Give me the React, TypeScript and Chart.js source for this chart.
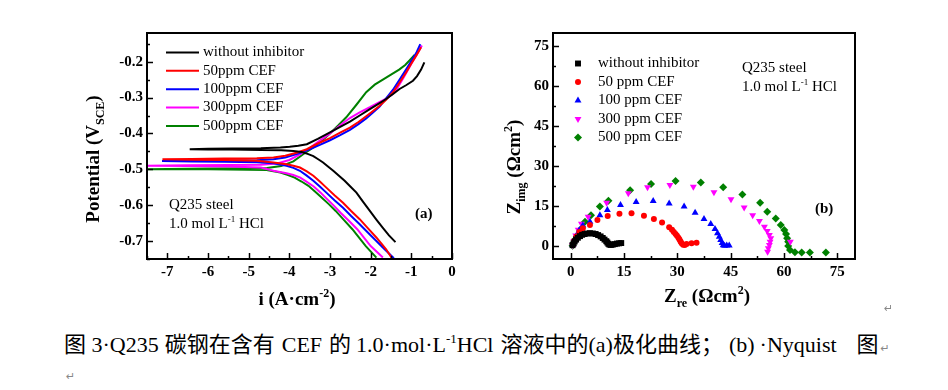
import React, { useEffect, useRef } from 'react';
import { Chart, registerables } from 'chart.js';

Chart.register(...registerables);

const SERIF = '"Liberation Serif", "Times New Roman", Times, serif';
const CAPTION_FONT = '"Liberation Serif", "Noto Sans CJK SC", serif';

// ---------------- (a) polarization curves: log i vs potential ----------------
const polLabels = ['without inhibitor', '50ppm CEF', '100ppm CEF', '300ppm CEF', '500ppm CEF'];
const seriesColors = ['#000000', '#ff0000', '#0000ff', '#ff00ff', '#008000'];
const polXTicks = [-7, -6, -5, -4, -3, -2, -1, 0];
const polYTicks = [-0.7, -0.6, -0.5, -0.4, -0.3, -0.2];

const blankLogI = [-1.39, -1.55, -1.70, -1.86, -2.02, -2.19, -2.35, -2.50, -2.64, -2.78, -2.92, -3.05, -3.17, -3.29, -3.41, -3.55, -3.70, -3.90, -4.20, -4.70, -5.40, -6.00, -6.45, -6.00, -5.40, -4.70, -4.22, -3.99, -3.78, -3.57, -3.30, -3.00, -2.75, -2.51, -2.27, -2.02, -1.82, -1.62, -1.45, -1.29, -1.12, -0.96, -0.86, -0.76, -0.68];
const blankE = [-0.703, -0.684, -0.663, -0.640, -0.616, -0.590, -0.565, -0.548, -0.532, -0.518, -0.504, -0.492, -0.481, -0.472, -0.463, -0.457, -0.452, -0.449, -0.447, -0.446, -0.445, -0.445, -0.444, -0.443, -0.442, -0.441, -0.439, -0.437, -0.434, -0.430, -0.415, -0.397, -0.382, -0.367, -0.350, -0.332, -0.318, -0.304, -0.290, -0.276, -0.265, -0.253, -0.240, -0.222, -0.202];

const ppm50LogI = [-1.49, -1.62, -1.86, -2.07, -2.27, -2.48, -2.68, -2.89, -3.09, -3.25, -3.41, -3.58, -3.74, -3.90, -4.07, -4.39, -4.80, -5.60, -6.40, -7.12, -6.40, -5.60, -4.80, -4.39, -4.10, -3.80, -3.57, -3.30, -3.00, -2.75, -2.51, -2.30, -2.11, -1.95, -1.78, -1.62, -1.45, -1.30, -1.13, -1.00, -0.88, -0.76];
const ppm50E = [-0.746, -0.723, -0.690, -0.664, -0.639, -0.616, -0.593, -0.572, -0.551, -0.534, -0.518, -0.505, -0.495, -0.490, -0.486, -0.481, -0.476, -0.474, -0.473, -0.472, -0.471, -0.470, -0.469, -0.467, -0.462, -0.453, -0.444, -0.428, -0.413, -0.398, -0.384, -0.368, -0.352, -0.338, -0.323, -0.306, -0.285, -0.260, -0.230, -0.205, -0.183, -0.160];

const ppm100LogI = [-1.43, -1.53, -1.70, -1.86, -2.07, -2.27, -2.48, -2.68, -2.89, -3.09, -3.25, -3.41, -3.58, -3.74, -3.90, -4.07, -4.39, -4.80, -5.60, -6.40, -7.13, -6.40, -5.60, -4.80, -4.39, -4.10, -3.80, -3.50, -3.25, -3.00, -2.75, -2.51, -2.30, -2.11, -1.95, -1.78, -1.62, -1.45, -1.30, -1.13, -1.00, -0.88, -0.78];
const ppm100E = [-0.748, -0.737, -0.718, -0.700, -0.676, -0.653, -0.630, -0.607, -0.586, -0.565, -0.548, -0.532, -0.517, -0.504, -0.496, -0.490, -0.483, -0.480, -0.479, -0.478, -0.477, -0.476, -0.476, -0.475, -0.472, -0.467, -0.457, -0.444, -0.432, -0.419, -0.405, -0.390, -0.374, -0.358, -0.342, -0.325, -0.302, -0.278, -0.252, -0.222, -0.198, -0.176, -0.151];

const ppm300LogI = [-1.70, -1.85, -2.00, -2.17, -2.33, -2.53, -2.74, -2.90, -3.07, -3.23, -3.40, -3.57, -3.73, -3.90, -4.07, -4.39, -4.70, -5.50, -6.50, -7.80, -6.50, -5.50, -4.70, -4.30, -4.00, -3.75, -3.50, -3.25, -3.00, -2.75, -2.51, -2.27, -2.02, -1.82, -1.62, -1.48, -1.37, -1.25, -1.13, -1.00, -0.88, -0.74];
const ppm300E = [-0.746, -0.730, -0.714, -0.690, -0.667, -0.644, -0.621, -0.602, -0.583, -0.565, -0.548, -0.535, -0.523, -0.516, -0.511, -0.504, -0.495, -0.492, -0.491, -0.490, -0.489, -0.488, -0.487, -0.484, -0.474, -0.459, -0.441, -0.420, -0.400, -0.377, -0.357, -0.341, -0.327, -0.315, -0.303, -0.292, -0.278, -0.256, -0.232, -0.206, -0.183, -0.155];

const ppm500LogI = [-1.86, -1.99, -2.12, -2.29, -2.45, -2.66, -2.86, -3.03, -3.20, -3.37, -3.53, -3.70, -3.87, -4.05, -4.22, -4.56, -5.00, -6.00, -7.00, -7.80, -7.00, -6.00, -5.00, -4.55, -4.20, -3.90, -3.66, -3.40, -3.20, -3.00, -2.80, -2.60, -2.35, -2.11, -1.90, -1.70, -1.50, -1.30, -1.15, -1.04, -0.92];
const ppm500E = [-0.746, -0.730, -0.714, -0.690, -0.667, -0.641, -0.616, -0.597, -0.579, -0.562, -0.546, -0.534, -0.523, -0.515, -0.509, -0.502, -0.501, -0.500, -0.500, -0.500, -0.499, -0.498, -0.497, -0.496, -0.491, -0.478, -0.458, -0.438, -0.420, -0.400, -0.378, -0.355, -0.320, -0.285, -0.264, -0.250, -0.236, -0.222, -0.209, -0.196, -0.181];

// ---------------- (b) Nyquist plots: Zre vs Zimg ----------------
const nyqLabels = ['without inhibitor', '50 ppm CEF', '100 ppm CEF', '300 ppm CEF', '500 ppm CEF'];
const nyqTicks = [0, 15, 30, 45, 60, 75];
const nyqPointStyles = ['rect', 'circle', 'triangle', 'triangle', 'rectRot'];
const nyqRotations = [0, 0, 0, 180, 0];
const nyqRadii = [4.2, 3, 4, 4, 4];

const blankZre = [0.5, 0.8, 1.1, 1.5, 2.0, 2.6, 3.2, 3.9, 4.6, 5.4, 6.2, 7.0, 7.7, 8.4, 9.0, 9.5, 10.0, 10.3, 10.6, 10.9, 11.3, 11.8, 12.4, 13.0, 13.6, 14.2];
const blankZim = [0.2, 0.9, 1.6, 2.3, 3.0, 3.6, 4.1, 4.4, 4.6, 4.7, 4.6, 4.4, 4.0, 3.5, 2.9, 2.3, 1.7, 1.2, 0.7, 0.4, 0.3, 0.4, 0.6, 0.8, 0.9, 1.0];

const ppm50Zre = [0.6, 1.0, 1.6, 2.4, 3.4, 5.4, 7.5, 10.4, 13.7, 17.1, 20.6, 23.4, 25.7, 27.7, 28.5, 29.0, 29.5, 29.9, 30.3, 30.6, 30.9, 31.2, 31.6, 32.1, 32.6, 34.0, 35.4];
const ppm50Zim = [0.3, 1.8, 3.5, 5.2, 6.6, 7.8, 9.7, 11.2, 12.0, 12.2, 11.3, 10.0, 8.7, 6.9, 6.0, 5.2, 4.4, 3.7, 3.0, 2.3, 1.6, 0.9, 0.4, 0.3, 0.6, 0.9, 1.1];

const ppm100Zre = [0.6, 1.0, 1.6, 2.4, 3.4, 5.4, 8.2, 10.3, 14.0, 18.4, 23.2, 27.7, 31.9, 35.0, 37.5, 39.4, 40.6, 41.3, 41.8, 42.2, 42.6, 42.9, 43.3, 43.9, 44.6];
const ppm100Zim = [0.3, 2.0, 3.8, 5.8, 7.6, 9.0, 11.5, 13.4, 15.3, 16.4, 16.8, 15.9, 14.7, 12.4, 10.0, 8.2, 6.3, 4.7, 3.4, 2.1, 1.0, 0.2, 0.0, 0.1, 0.1];

const ppm300Zre = [0.5, 0.9, 1.4, 2.1, 3.0, 4.9, 10.1, 16.2, 21.6, 27.9, 34.5, 40.3, 45.1, 48.8, 51.2, 53.1, 54.5, 55.3, 55.9, 56.3, 56.1, 55.9, 55.6, 55.4, 61.8];
const ppm300Zim = [0.2, 1.8, 3.8, 6.0, 8.3, 10.9, 16.2, 19.7, 22.0, 22.8, 22.2, 20.1, 17.5, 14.4, 11.5, 9.3, 7.1, 5.5, 4.0, 2.8, 1.5, 0.3, -1.0, -2.3, 1.5];

const ppm500Zre = [0.5, 0.7, 1.1, 1.7, 2.6, 4.0, 5.7, 8.2, 10.6, 16.7, 22.6, 29.5, 36.6, 42.9, 48.3, 53.3, 55.3, 57.7, 59.1, 60.1, 60.6, 60.9, 61.2, 61.2, 61.7, 63.1, 65.0, 67.3, 71.8];
const ppm500Zim = [0.0, 0.9, 2.1, 3.4, 5.9, 9.0, 11.5, 14.7, 16.9, 20.9, 23.2, 24.3, 23.8, 22.0, 19.3, 16.2, 12.8, 10.2, 7.8, 5.9, 4.4, 2.8, 1.5, -0.1, -1.6, -2.5, -2.6, -2.6, -2.6];

const polX = [blankLogI, ppm50LogI, ppm100LogI, ppm300LogI, ppm500LogI];
const polY = [blankE, ppm50E, ppm100E, ppm300E, ppm500E];
const nyqX = [blankZre, ppm50Zre, ppm100Zre, ppm300Zre, ppm500Zre];
const nyqY = [blankZim, ppm50Zim, ppm100Zim, ppm300Zim, ppm500Zim];

// caption text pieces; gap = extra space (px) before the piece (Word's CJK/Latin spacing)
const captionParts: { t: string; gap?: number; sup?: boolean }[] = [
  { t: '图 3·Q235' },
  { t: '碳钢在含有', gap: 6 },
  { t: 'CEF', gap: 7 },
  { t: '的', gap: 7 },
  { t: '1.0·mol·L', gap: 5 },
  { t: '-1', sup: true },
  { t: 'HCl' },
  { t: '溶液中的', gap: 7 },
  { t: '(a)' },
  { t: '极化曲线；' },
  { t: '(b)', gap: 6 },
  { t: '·Nyquist', gap: 5 },
  { t: '图', gap: 20 },
];

// ---------------- drawing helpers ----------------
type Run = { t: string; s?: 'sub' | 'sup' };

function runFont(size: number, bold: boolean, s?: string) {
  const sz = s ? Math.round(size * 0.62) : size;
  return `${bold ? 'bold ' : ''}${sz}px ${SERIF}`;
}

function drawRich(ctx: CanvasRenderingContext2D, runs: Run[], x: number, y: number, size: number, bold: boolean, align: 'left' | 'center') {
  let total = 0;
  for (const r of runs) {
    ctx.font = runFont(size, bold, r.s);
    total += ctx.measureText(r.t).width;
  }
  let cx = align === 'center' ? x - total / 2 : x;
  ctx.textAlign = 'left';
  ctx.textBaseline = 'alphabetic';
  for (const r of runs) {
    ctx.font = runFont(size, bold, r.s);
    const dy = r.s === 'sub' ? size * 0.25 : r.s === 'sup' ? -size * 0.4 : 0;
    ctx.fillText(r.t, cx, y + dy);
    cx += ctx.measureText(r.t).width;
  }
}

function drawMarker(ctx: CanvasRenderingContext2D, style: string, x: number, y: number, r: number, rotation: number) {
  ctx.beginPath();
  if (style === 'rect') {
    const s = Math.SQRT1_2 * r;
    ctx.rect(x - s, y - s, 2 * s, 2 * s);
  } else if (style === 'circle') {
    ctx.arc(x, y, r, 0, Math.PI * 2);
  } else if (style === 'triangle') {
    let rad = (rotation * Math.PI) / 180;
    ctx.moveTo(x + Math.sin(rad) * r, y - Math.cos(rad) * r);
    rad += (2 * Math.PI) / 3;
    ctx.lineTo(x + Math.sin(rad) * r, y - Math.cos(rad) * r);
    rad += (2 * Math.PI) / 3;
    ctx.lineTo(x + Math.sin(rad) * r, y - Math.cos(rad) * r);
    ctx.closePath();
  } else {
    ctx.moveTo(x - r, y);
    ctx.lineTo(x, y - r);
    ctx.lineTo(x + r, y);
    ctx.lineTo(x, y + r);
    ctx.closePath();
  }
  ctx.fill();
}

interface Note { runs: Run[]; x: number; y: number; bold?: boolean; size: number }
interface DecorCfg {
  xMajor: number; xMinor: number; yMajor: number; yMinor: number;
  xTitle: Run[]; xTitleX: number; xTitleY: number;
  yTitle: Run[]; yTitleX: number; yTitleY: number;
  titleSize: number;
  legendKind: 'line' | 'marker';
  legendX: number; legendX2: number; legendTextX: number; legendY: number; legendStep: number;
  notes: Note[];
}

function makeDecor(cfg: DecorCfg) {
  return {
    id: 'decor',
    afterDraw(chart: any) {
      const ctx: CanvasRenderingContext2D = chart.ctx;
      const a = chart.chartArea;
      const xs = chart.scales.x;
      const ys = chart.scales.y;
      const near = (v: number, step: number) => Math.abs(v / step - Math.round(v / step)) < 1e-6;
      ctx.save();
      ctx.strokeStyle = '#000';
      ctx.fillStyle = '#000';
      ctx.lineWidth = 1.5;
      for (let k = Math.ceil(xs.min / cfg.xMinor - 1e-9); k * cfg.xMinor <= xs.max + 1e-9; k++) {
        const v = k * cfg.xMinor;
        const px = Math.round(xs.getPixelForValue(v)) + 0.5;
        const len = near(v, cfg.xMajor) ? 6 : 3;
        ctx.beginPath();
        ctx.moveTo(px, a.bottom);
        ctx.lineTo(px, a.bottom - len);
        ctx.stroke();
      }
      for (let k = Math.ceil(ys.min / cfg.yMinor - 1e-9); k * cfg.yMinor <= ys.max + 1e-9; k++) {
        const v = k * cfg.yMinor;
        const py = Math.round(ys.getPixelForValue(v)) + 0.5;
        const len = near(v, cfg.yMajor) ? 6 : 3;
        ctx.beginPath();
        ctx.moveTo(a.left, py);
        ctx.lineTo(a.left + len, py);
        ctx.stroke();
      }
      ctx.lineWidth = 2;
      ctx.strokeRect(a.left, a.top, a.right - a.left, a.bottom - a.top);

      drawRich(ctx, cfg.xTitle, cfg.xTitleX, cfg.xTitleY, cfg.titleSize, true, 'center');
      ctx.save();
      ctx.translate(cfg.yTitleX, cfg.yTitleY);
      ctx.rotate(-Math.PI / 2);
      drawRich(ctx, cfg.yTitle, 0, 0, cfg.titleSize, true, 'center');
      ctx.restore();

      chart.data.datasets.forEach((ds: any, i: number) => {
        const y = cfg.legendY + i * cfg.legendStep;
        if (cfg.legendKind === 'line') {
          ctx.strokeStyle = ds.borderColor;
          ctx.lineWidth = 2;
          ctx.beginPath();
          ctx.moveTo(cfg.legendX, y);
          ctx.lineTo(cfg.legendX2, y);
          ctx.stroke();
        } else {
          ctx.fillStyle = ds.backgroundColor;
          drawMarker(ctx, ds.pointStyle, cfg.legendX, y, ds.pointRadius, ds.pointRotation || 0);
        }
        ctx.fillStyle = '#000';
        ctx.font = `15px ${SERIF}`;
        ctx.textAlign = 'left';
        ctx.textBaseline = 'middle';
        ctx.fillText(ds.label, cfg.legendTextX, y);
      });

      ctx.fillStyle = '#000';
      for (const n of cfg.notes) drawRich(ctx, n.runs, n.x, n.y, n.size, !!n.bold, 'left');
      ctx.restore();
    },
  };
}

const tickFont = { family: SERIF, size: 15, weight: 'bold' as const };

function axis(min: number, max: number, ticks: number[], fmt: (v: number) => string, fit: (s: any) => void) {
  return {
    type: 'linear' as const,
    min,
    max,
    afterBuildTicks: (s: any) => {
      s.ticks = ticks.map((v) => ({ value: v }));
    },
    afterFit: fit,
    ticks: { callback: (v: any) => fmt(Number(v)), font: tickFont, color: '#000', padding: 4, autoSkip: false, maxRotation: 0 },
    grid: { display: false, drawTicks: false },
    border: { display: false },
    title: { display: false },
  };
}

export default function App() {
  const leftRef = useRef<HTMLCanvasElement>(null);
  const rightRef = useRef<HTMLCanvasElement>(null);

  useEffect(() => {
    const left = new Chart(leftRef.current as HTMLCanvasElement, {
      type: 'scatter',
      data: {
        datasets: polLabels.map((label, i) => ({
          label,
          data: polX[i].map((x, j) => ({ x, y: polY[i][j] })),
          showLine: true,
          borderColor: seriesColors[i],
          backgroundColor: seriesColors[i],
          borderWidth: 2,
          pointRadius: 0,
          tension: 0,
        })),
      },
      options: {
        animation: false,
        responsive: false,
        devicePixelRatio: 1,
        layout: { padding: { left: 0, right: 22, top: 33, bottom: 0 } },
        plugins: { legend: { display: false }, tooltip: { enabled: false } },
        scales: {
          x: axis(-7.5, 0, polXTicks, (v) => String(v), (s) => { s.height = 61; }),
          y: axis(-0.75, -0.12, polYTicks, (v) => v.toFixed(1), (s) => { s.width = 147; }),
        },
      } as any,
      plugins: [
        makeDecor({
          xMajor: 1, xMinor: 0.5, yMajor: 0.1, yMinor: 0.05,
          xTitle: [{ t: 'i (A·cm' }, { t: '-2', s: 'sup' }, { t: ')' }],
          xTitleX: 297, xTitleY: 305,
          yTitle: [{ t: 'Potential (V' }, { t: 'SCE', s: 'sub' }, { t: ')' }],
          yTitleX: 99, yTitleY: 159,
          titleSize: 19,
          legendKind: 'line', legendX: 166, legendX2: 199, legendTextX: 203, legendY: 52.5, legendStep: 18.35,
          notes: [
            { runs: [{ t: 'Q235 steel' }], x: 169, y: 209, size: 15 },
            { runs: [{ t: '1.0 mol L' }, { t: '-1', s: 'sup' }, { t: ' HCl' }], x: 169, y: 228, size: 15 },
            { runs: [{ t: '(a)' }], x: 415, y: 218, size: 15, bold: true },
          ],
        }) as any,
      ],
    });

    const right = new Chart(rightRef.current as HTMLCanvasElement, {
      type: 'scatter',
      data: {
        datasets: nyqLabels.map((label, i) => ({
          label,
          data: nyqX[i].map((x, j) => ({ x, y: nyqY[i][j] })),
          showLine: false,
          backgroundColor: seriesColors[i],
          borderColor: seriesColors[i],
          borderWidth: 0,
          pointStyle: nyqPointStyles[i],
          pointRotation: nyqRotations[i],
          pointRadius: nyqRadii[i],
          pointBorderWidth: 0,
        })),
      },
      options: {
        animation: false,
        responsive: false,
        devicePixelRatio: 1,
        layout: { padding: { left: 0, right: 93, top: 33, bottom: 0 } },
        plugins: { legend: { display: false }, tooltip: { enabled: false } },
        scales: {
          x: axis(-5, 80, nyqTicks, (v) => String(v), (s) => { s.height = 61; }),
          y: axis(-5, 80, nyqTicks, (v) => String(v), (s) => { s.width = 79; }),
        },
      } as any,
      plugins: [
        makeDecor({
          xMajor: 15, xMinor: 7.5, yMajor: 15, yMinor: 7.5,
          xTitle: [{ t: 'Z' }, { t: 're', s: 'sub' }, { t: ' (Ωcm' }, { t: '2', s: 'sup' }, { t: ')' }],
          xTitleX: 233, xTitleY: 302,
          yTitle: [{ t: 'Z' }, { t: 'img', s: 'sub' }, { t: ' (Ωcm' }, { t: '2', s: 'sup' }, { t: ')' }],
          yTitleX: 46, yTitleY: 167,
          titleSize: 19,
          legendKind: 'marker', legendX: 104, legendX2: 104, legendTextX: 124, legendY: 63.5, legendStep: 18.5,
          notes: [
            { runs: [{ t: 'Q235 steel' }], x: 268, y: 72, size: 15 },
            { runs: [{ t: '1.0 mol L' }, { t: '-1', s: 'sup' }, { t: ' HCl' }], x: 268, y: 91, size: 15 },
            { runs: [{ t: '(b)' }], x: 341, y: 213, size: 15, bold: true },
          ],
        }) as any,
      ],
    });

    return () => {
      left.destroy();
      right.destroy();
    };
  }, []);

  return (
    <div style={{ position: 'absolute', left: 0, top: 0, width: 948, height: 390, background: '#fff', overflow: 'hidden' }}>
      <canvas ref={leftRef} width={474} height={320} style={{ position: 'absolute', left: 0, top: 0 }} />
      <canvas ref={rightRef} width={474} height={320} style={{ position: 'absolute', left: 474, top: 0 }} />
      <span style={{ position: 'absolute', left: 884, top: 302, fontSize: 11, color: '#888', fontFamily: 'DejaVu Sans' }}>↵</span>
      <div
        style={{
          position: 'absolute',
          left: 64,
          top: 332,
          fontFamily: CAPTION_FONT,
          fontSize: 22,
          lineHeight: '26px',
          whiteSpace: 'nowrap',
          color: '#000',
        }}
      >
        {captionParts.map((p, i) =>
          p.sup ? (
            <span key={i} style={{ fontSize: 13, position: 'relative', top: -9 }}>{p.t}</span>
          ) : (
            <span key={i} style={{ marginLeft: p.gap || 0 }}>{p.t}</span>
          )
        )}
        <span style={{ fontSize: 11, color: '#888', fontFamily: 'DejaVu Sans', marginLeft: 2 }}>↵</span>
      </div>
      <span style={{ position: 'absolute', left: 66, top: 370, fontSize: 11, color: '#888', fontFamily: 'DejaVu Sans' }}>↵</span>
    </div>
  );
}
